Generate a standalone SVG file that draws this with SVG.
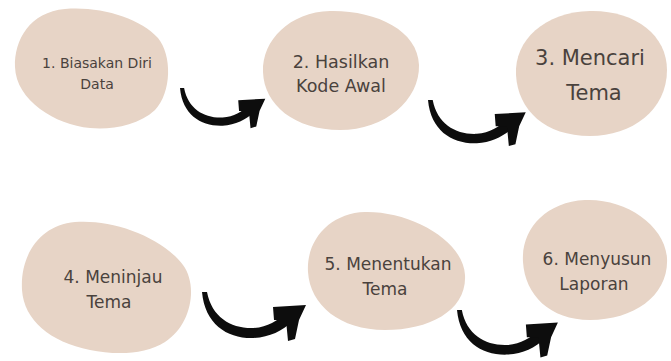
<svg xmlns="http://www.w3.org/2000/svg" width="671" height="361" viewBox="0 0 671 361">
<style>
.blob{fill:#e7d4c6}
text{font-family:"DejaVu Sans","Liberation Sans",sans-serif;fill:#4a423d;text-anchor:middle}
.arr{fill:#0d0d0d}
</style>
<defs>
<g id="arrow">
<path class="arr" d="M0,0 C3,33 26,47 52,46 C68,45 80,39 91,29 L85,20 C75,29 66,35 52,36 C30,37 10,26 5,0 Z"/>
<polygon class="arr" points="104,13 71,15 72,28 84,28 86,49 93,47 97,28"/>
</g>
</defs>
<rect width="671" height="361" fill="#ffffff"/>
<g id="node1">
<path class="blob" d="M15,67 C14,40 30,12 65,9 C100,6 140,18 158,38 C172,55 172,92 155,110 C138,126 110,130 90,128 C55,125 16,100 15,67 Z"/>
<text x="97" y="68" font-size="14">1. Biasakan Diri</text>
<text x="97" y="89" font-size="14">Data</text>
</g>
<g id="node2">
<path class="blob" d="M263,72 C262,40 290,12 330,11 C375,10 418,30 419,65 C420,100 385,130 340,130 C295,130 264,105 263,72 Z"/>
<text x="341" y="68" font-size="17.5">2. Hasilkan</text>
<text x="341" y="92" font-size="17.5">Kode Awal</text>
</g>
<g id="node3">
<path class="blob" d="M516,75 C514,40 545,12 590,11 C635,10 667,35 667,70 C667,110 632,136 590,136 C545,136 518,110 516,75 Z"/>
<text x="590" y="65" font-size="21">3. Mencari</text>
<text x="594" y="100" font-size="21">Tema</text>
</g>
<g id="node4">
<path class="blob" d="M22,290 C20,255 40,225 75,222 C110,219 160,235 183,265 C198,285 192,325 165,342 C145,355 115,355 90,350 C50,342 24,320 22,290 Z"/>
<text x="113" y="283" font-size="17">4. Meninjau</text>
<text x="109" y="308" font-size="17">Tema</text>
</g>
<g id="node5">
<path class="blob" d="M308,272 C306,240 330,213 365,212 C410,211 463,240 465,275 C467,310 430,330 385,330 C340,330 310,305 308,272 Z"/>
<text x="388" y="270" font-size="17">5. Menentukan</text>
<text x="385" y="295" font-size="17">Tema</text>
</g>
<g id="node6">
<path class="blob" d="M523,262 C521,230 545,202 585,200 C625,198 665,225 667,258 C669,295 635,320 590,320 C550,320 525,295 523,262 Z"/>
<text x="597" y="265" font-size="17">6. Menyusun</text>
<text x="594" y="290" font-size="17">Laporan</text>
</g>
<g id="connectors">
<use href="#arrow" transform="translate(180,88) scale(0.82)"/>
<use href="#arrow" transform="translate(428,100) scale(0.94)"/>
<use href="#arrow" transform="translate(202,292) scale(1)"/>
<use href="#arrow" transform="translate(457,310) scale(0.97)"/>
</g>
</svg>
